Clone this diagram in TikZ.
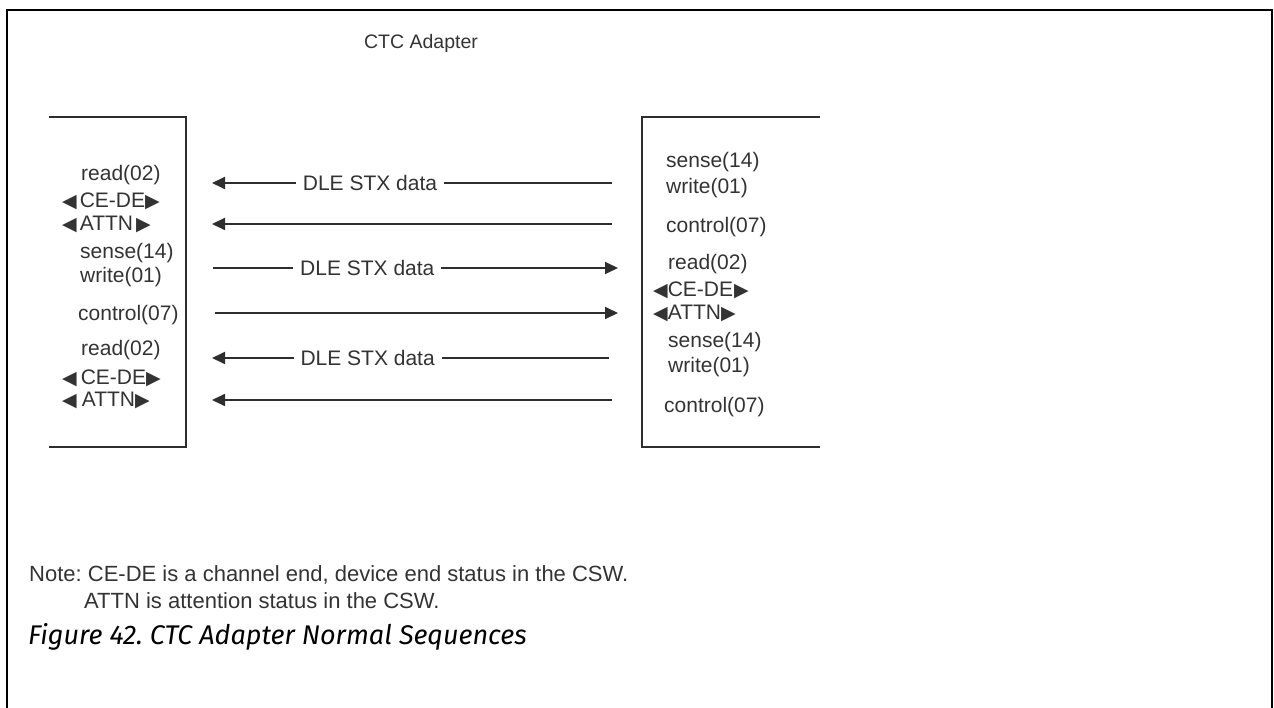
\documentclass[tikz,border=0pt]{standalone}
\usepackage{fontspec}
\setmainfont{Liberation Sans}
\newfontfamily\capfont{Fira Sans}
\newfontfamily\symfont{DejaVu Sans}
\usetikzlibrary{arrows.meta,positioning}
\definecolor{ctc-ink}{HTML}{333333}
\definecolor{ctc-line}{HTML}{2E2E2E}
\newcommand{\ltri}{{\symfont\fontsize{19}{19}\selectfont ◀}}
\newcommand{\rtri}{{\symfont\fontsize{19}{19}\selectfont ▶}}
\frenchspacing

\begin{document}
\begin{tikzpicture}[x=1pt, y=-1pt,
    lbl/.style={font=\fontsize{21}{23}\selectfont, text=ctc-ink, inner sep=0pt, anchor=west},
    dle/.style={lbl, anchor=center, fill=white, inner xsep=7pt, inner ysep=2pt},
    box/.style={line width=2.4pt, ctc-line},
    sig/.style={line width=1.8pt, ctc-line, -{Triangle[length=13pt,width=12pt]}}]
    \useasboundingbox (0,0) rectangle (1274,708);
    % outer frame, open at the bottom
    \draw[line width=2.6pt] (7,708) -- (7,10) -- (1272,10) -- (1272,708);
    \node[lbl, anchor=center, font=\fontsize{19.5}{22}\selectfont] (title) at (421,43) {CTC Adapter};

    % the two adapter sides
    \draw[box] (49,117) -- (186,117) -- (186,447) -- (49,447);
    \draw[box] (820,117) -- (642,117) -- (642,447) -- (820,447);

    % left side
    \node[lbl] (lread1) at (81,175) {read(02)};
    \node[lbl] (lcede1) at (62,201) {\ltri\hspace{3pt}CE-DE\rtri};
    \node[lbl] (lattn1) at (62,224) {\ltri\hspace{3pt}ATTN\hspace{3pt}\rtri};
    \node[lbl] (lsense1) at (80,253) {sense(14)};
    \node[lbl] (lwrite1) at (80,277) {write(01)};
    \node[lbl] (lctl1) at (78,315) {control(07)};
    \node[lbl] (lread2) at (81,350) {read(02)};
    \node[lbl] (lcede2) at (62,378) {\ltri\hspace{4pt}CE-DE\rtri};
    \node[lbl] (lattn2) at (62,400) {\ltri\hspace{5pt}ATTN\rtri};

    % right side
    \node[lbl] (rsense1) at (666,162) {sense(14)};
    \node[lbl] (rwrite1) at (666,188) {write(01)};
    \node[lbl] (rctl1) at (666,227) {control(07)};
    \node[lbl] (rread1) at (668,264) {read(02)};
    \node[lbl] (rcede1) at (653,290) {\ltri CE-DE\hspace{1pt}\rtri};
    \node[lbl] (rattn1) at (653,313) {\ltri ATTN\rtri};
    \node[lbl] (rsense2) at (668,342) {sense(14)};
    \node[lbl] (rwrite2) at (668,367) {write(01)};
    \node[lbl] (rctl2) at (664,407) {control(07)};

    % message ends
    \coordinate (a1l) at (212,183); \coordinate (a1r) at (612,183);
    \coordinate (a2l) at (212,224); \coordinate (a2r) at (612,224);
    \coordinate (a3l) at (213,268); \coordinate (a3r) at (618,268);
    \coordinate (a4l) at (215,313); \coordinate (a4r) at (618,313);
    \coordinate (a5l) at (212,358); \coordinate (a5r) at (609,358);
    \coordinate (a6l) at (212,400); \coordinate (a6r) at (612,400);

    \draw[sig] (a1r) -- node[dle, pos=.605] (d1) {DLE STX data} (a1l);
    \draw[sig] (a2r) -- (a2l);
    \draw[sig] (a3l) -- node[dle, pos=.381] (d3) {DLE STX data} (a3r);
    \draw[sig] (a4l) -- (a4r);
    \draw[sig] (a5r) -- node[dle, pos=.608] (d5) {DLE STX data} (a5l);
    \draw[sig] (a6r) -- (a6l);

    % note and caption
    \node[lbl, font=\fontsize{22}{24}\selectfont] (note1) at (29,575) {Note: CE-DE is a channel end, device end status in the CSW.};
    \node[lbl, font=\fontsize{22}{24}\selectfont] (note2) at (84,601) {ATTN is attention status in the CSW.};
    \node[lbl, text=black, font=\capfont\itshape\fontsize{27}{30}\selectfont] (cap) at (28,637) {Figure 42. CTC Adapter Normal Sequences};
\end{tikzpicture}
\end{document}
